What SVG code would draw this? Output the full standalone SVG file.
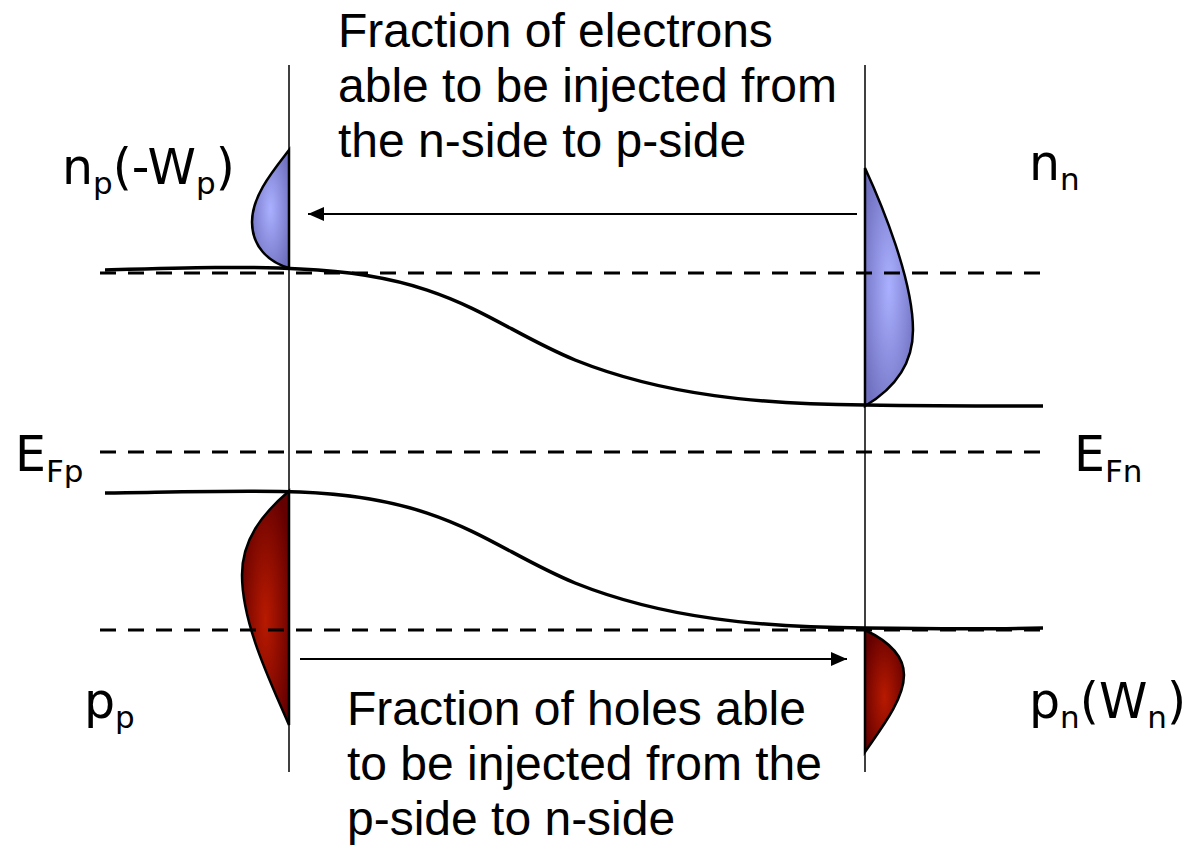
<svg xmlns="http://www.w3.org/2000/svg" width="1189" height="847" viewBox="0 0 1189 847">
<style>
.band{fill:none;stroke:#000;stroke-width:3.5}
.dash{fill:none;stroke:#000;stroke-width:3;stroke-dasharray:16 12}
.vline{fill:none;stroke:#000;stroke-width:1.5}
.arrow{fill:none;stroke:#000;stroke-width:1.8}
.edge{stroke:#000;stroke-width:2.5}
.txt{font-family:"Liberation Sans",Arial,sans-serif;font-size:48px;fill:#000}
.lbl{font-family:"DejaVu Sans","Open Sans",sans-serif;font-size:49px;fill:#000}
.sub{font-size:31px}
</style>
<defs>
<radialGradient id="gblue" cx="0.5" cy="0.5" r="0.6">
<stop offset="0" stop-color="#aab0ff"/>
<stop offset="1" stop-color="#7070c0"/>
</radialGradient>
<radialGradient id="gred" cx="0.5" cy="0.55" r="0.6">
<stop offset="0" stop-color="#b81a00"/>
<stop offset="1" stop-color="#640000"/>
</radialGradient>
<marker id="ah" viewBox="0 0 16 14" refX="16" refY="7" markerWidth="16" markerHeight="14" markerUnits="userSpaceOnUse" orient="auto">
<path d="M0,0 L16,7 L0,14 Z" fill="#000"/>
</marker>
</defs>

<g id="carriers">
<path id="np" class="edge" fill="url(#gblue)" d="M289,150 C272,172 252,196 252,222 C252,246 268,262 289,268 Z"/>
<path id="nn" class="edge" fill="url(#gblue)" d="M865,168 C882,205 913,280 913,330 C913,370 887,393 865,406 Z"/>
<path id="pp" class="edge" fill="url(#gred)" d="M289,491 C262,514 242,540 242,575 C242,625 272,685 289,725 Z"/>
<path id="pn" class="edge" fill="url(#gred)" d="M865,630 C886,640 904,655 904,675 C904,700 880,730 865,752 Z"/>
</g>

<g id="levels">
<line class="dash" x1="100" y1="273" x2="1045" y2="273"/>
<line class="dash" x1="100" y1="452" x2="1045" y2="452"/>
<line class="dash" x1="100" y1="630" x2="1045" y2="630"/>
</g>

<g id="bands">
<path id="Ec" class="band" d="M105,270 C180,268 250,266 300,269 C450,275 490,325 575,360 C665,396 760,404 865,405 C940,406 1000,406 1043,406"/>
<path id="Ev" class="band" d="M105,493 C180,492 250,490 300,492 C450,498 490,548 575,583 C665,619 760,627 865,628 C940,629 1000,629 1043,628"/>
</g>

<g id="boundaries">
<line class="vline" x1="289" y1="65" x2="289" y2="772"/>
<line class="vline" x1="865" y1="65" x2="865" y2="772"/>
</g>

<g id="connectors">
<line class="arrow" x1="857" y1="214" x2="308" y2="214" marker-end="url(#ah)"/>
<line class="arrow" x1="300" y1="659" x2="847" y2="659" marker-end="url(#ah)"/>
</g>

<g id="label-top">
<text class="txt" x="338" y="47">Fraction of electrons</text>
<text class="txt" x="338" y="102">able to be injected from</text>
<text class="txt" x="338" y="157">the n-side to p-side</text>
</g>
<g id="label-bottom">
<text class="txt" x="347" y="725">Fraction of holes able</text>
<text class="txt" x="347" y="780">to be injected from the</text>
<text class="txt" x="347" y="835">p-side to n-side</text>
</g>

<g id="label-np"><text class="lbl" x="62" y="184">n<tspan class="sub" dy="10">p</tspan><tspan dy="-10">(-W</tspan><tspan class="sub" dy="10">p</tspan><tspan dy="-10">)</tspan></text></g>
<g id="label-nn"><text class="lbl" x="1029" y="180">n<tspan class="sub" dy="10">n</tspan></text></g>
<g id="label-EFp"><text class="lbl" x="15" y="471">E<tspan class="sub" dy="11">Fp</tspan></text></g>
<g id="label-EFn"><text class="lbl" x="1074" y="471">E<tspan class="sub" dy="11">Fn</tspan></text></g>
<g id="label-pp"><text class="lbl" x="84" y="718">p<tspan class="sub" dy="10">p</tspan></text></g>
<g id="label-pn"><text class="lbl" x="1029" y="718">p<tspan class="sub" dy="10">n</tspan><tspan dy="-10">(W</tspan><tspan class="sub" dy="10">n</tspan><tspan dy="-10">)</tspan></text></g>
</svg>
